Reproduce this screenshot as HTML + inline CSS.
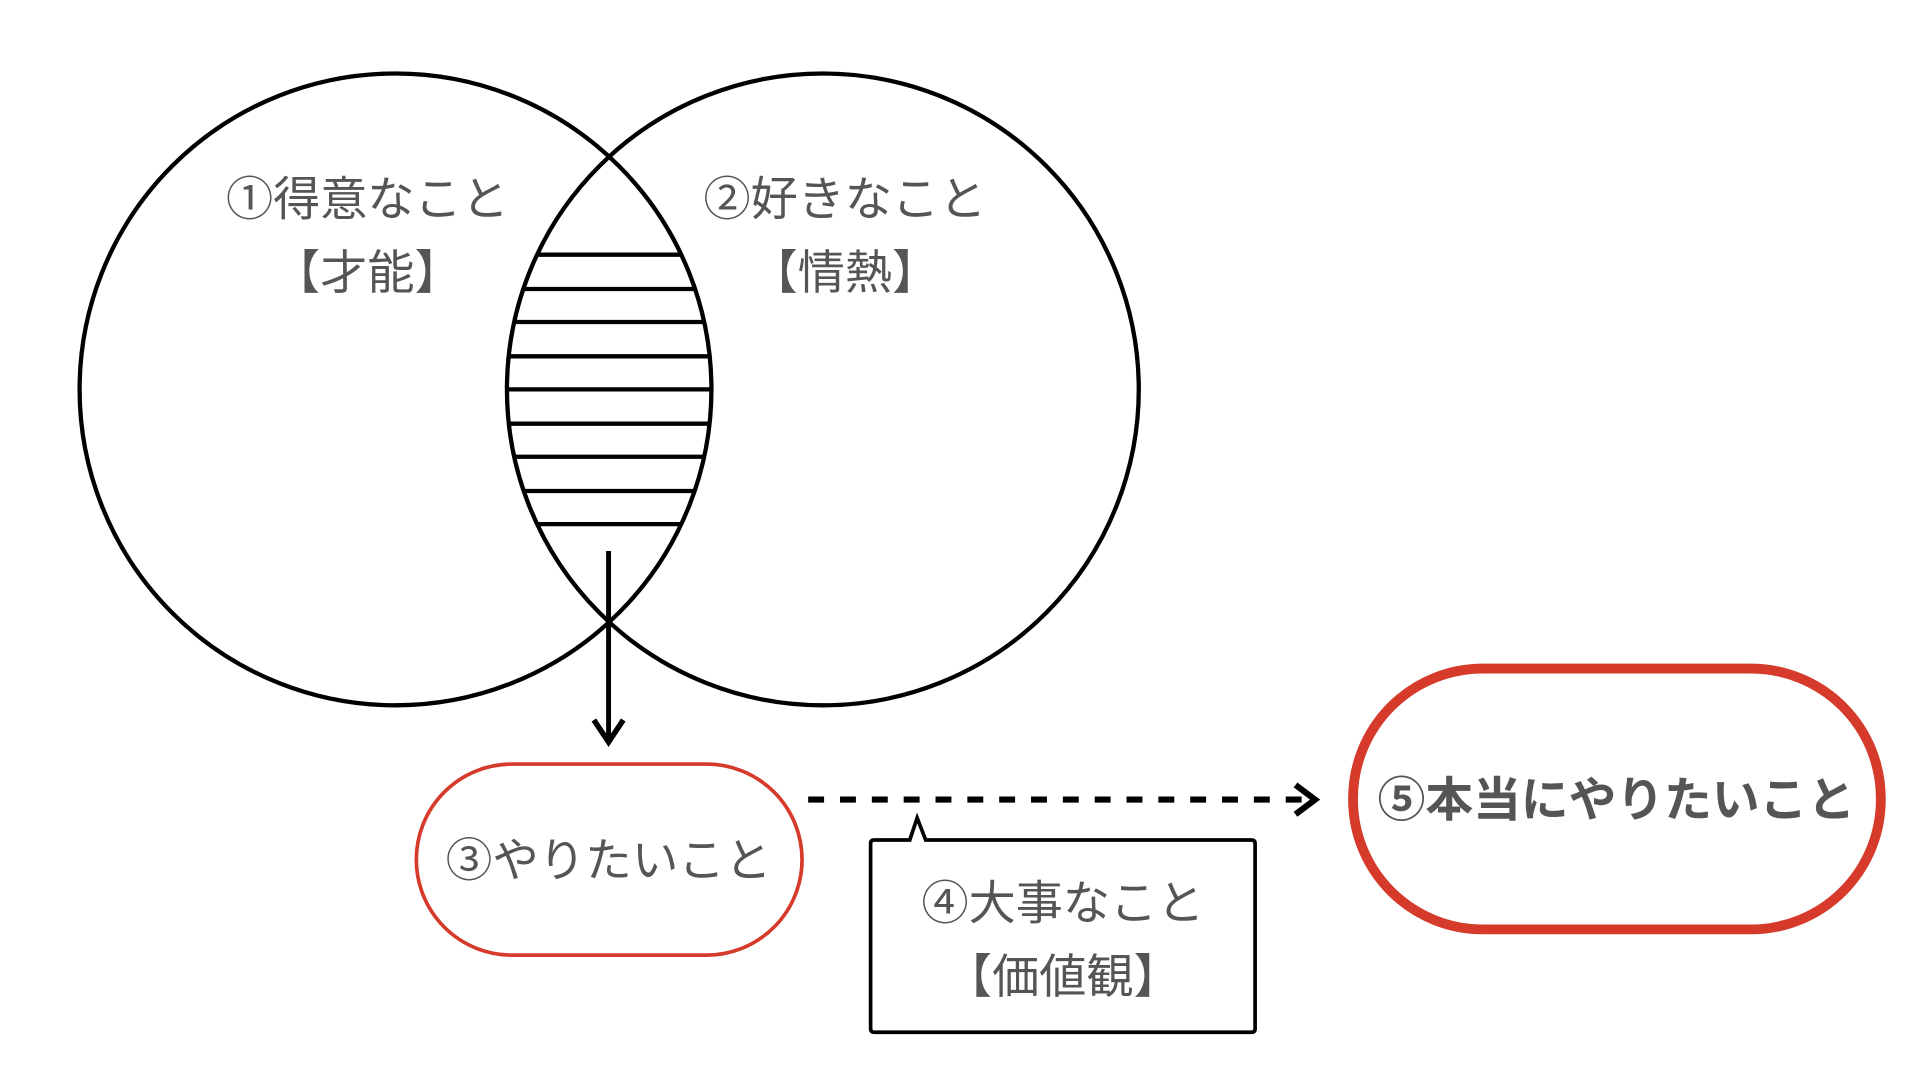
<!DOCTYPE html>
<html><head><meta charset="utf-8"><style>
html,body{margin:0;padding:0;background:#fff;width:1920px;height:1080px;overflow:hidden}
svg{display:block}
text{font-family:"Liberation Sans","Noto Sans CJK JP",sans-serif;fill:#555;text-anchor:middle}
</style></head><body>
<svg width="1920" height="1080" viewBox="0 0 1568 882" preserveAspectRatio="none">
<defs>
<clipPath id="lens"><circle cx="323" cy="318" r="258"/></clipPath>
<clipPath id="lens2"><circle cx="672" cy="318" r="258"/></clipPath>
</defs>
<g clip-path="url(#lens)"><g clip-path="url(#lens2)" stroke="#000" stroke-width="3.5">
<line x1="380" x2="620" y1="208" y2="208"/><line x1="380" x2="620" y1="236" y2="236"/>
<line x1="380" x2="620" y1="263" y2="263"/><line x1="380" x2="620" y1="291" y2="291"/>
<line x1="380" x2="620" y1="318" y2="318"/><line x1="380" x2="620" y1="346" y2="346"/>
<line x1="380" x2="620" y1="373" y2="373"/><line x1="380" x2="620" y1="401" y2="401"/>
<line x1="380" x2="620" y1="428" y2="428"/>
</g></g>
<circle cx="323" cy="318" r="258" fill="none" stroke="#000" stroke-width="3.5"/>
<circle cx="672" cy="318" r="258" fill="none" stroke="#000" stroke-width="3.5"/>
<text x="300" y="176" font-size="38.5">①得意なこと</text>
<text x="300" y="236" font-size="38.5">【才能】</text>
<text x="690" y="176" font-size="38.5">②好きなこと</text>
<text x="690" y="236" font-size="38.5">【情熱】</text>
<line x1="497" y1="450" x2="497" y2="606" stroke="#000" stroke-width="4"/>
<polyline points="485,588 497,606 509,588" fill="none" stroke="#000" stroke-width="4.5"/>
<rect x="340" y="624" width="315" height="156" rx="78" fill="none" stroke="#d63a2a" stroke-width="3"/>
<text x="497" y="716" font-size="38">③やりたいこと</text>
<line x1="660" y1="653" x2="1072" y2="653" stroke="#000" stroke-width="5" stroke-dasharray="13 13"/>
<polyline points="1058,641 1074,653 1058,665" fill="none" stroke="#000" stroke-width="5"/>
<path d="M714,686 H743 L749,668 L756,686 H1022 Q1025,686 1025,689 V840 Q1025,843 1022,843 H714 Q711,843 711,840 V689 Q711,686 714,686 Z" fill="#fff" stroke="#000" stroke-width="3"/>
<text x="868" y="751" font-size="38.5">④大事なこと</text>
<text x="868" y="811" font-size="38.5">【価値観】</text>
<rect x="1105" y="546" width="431" height="213" rx="106" fill="none" stroke="#d63a2a" stroke-width="8"/>
<text x="1320" y="667" font-size="39" font-weight="bold">⑤本当にやりたいこと</text>
</svg>
</body></html>
